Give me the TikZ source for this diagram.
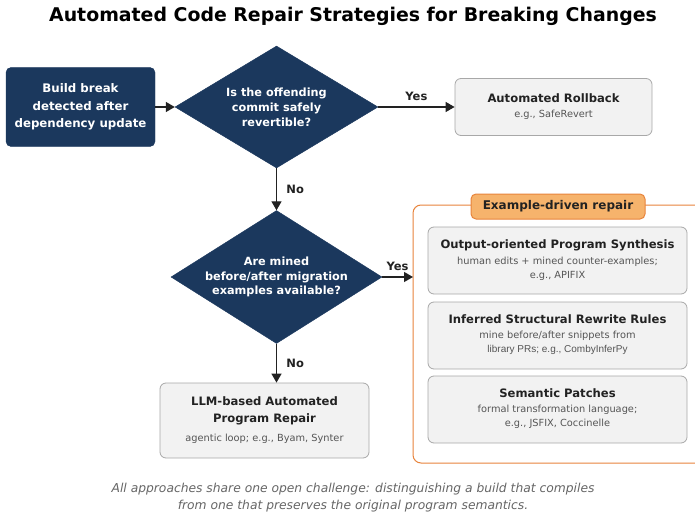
\documentclass[tikz,border=0pt]{standalone}
\usepackage{fontspec}
\setmainfont{DejaVu Sans}
\newfontfamily\libsans{Liberation Sans}
\usetikzlibrary{shapes.geometric,arrows.meta,positioning}
\definecolor{navy}{HTML}{1B385D}
\definecolor{boxfill}{HTML}{F2F2F2}
\definecolor{boxline}{HTML}{A8A8A8}
\definecolor{orangeline}{HTML}{E8843C}
\definecolor{orangefill}{HTML}{F6B36C}
\definecolor{subgray}{HTML}{555555}
\definecolor{darktext}{HTML}{222222}
\definecolor{footgray}{HTML}{666666}
\tikzset{
  navybox/.style={draw=navy, fill=navy, rounded corners=5pt, text=white, align=center, font=\fontsize{11.8}{17.5}\selectfont\bfseries, inner sep=0pt},
  decision/.style={diamond, shape aspect=1.66, draw=navy, fill=navy, text=white, align=center, font=\fontsize{11.3}{14.8}\selectfont\bfseries, inner sep=0pt},
  graybox/.style={draw=boxline, fill=boxfill, rounded corners=6pt, line width=0.8pt, inner sep=0pt},
  ttl/.style={font=\fontsize{11.6}{17}\selectfont\bfseries, text=darktext, align=center},
  sub/.style={font=\fontsize{9.8}{14}\selectfont, text=subgray, align=center},
  flow/.style={draw=darktext, line width=1.3pt, -{Triangle[length=9pt,width=10pt]}},
  lbl/.style={font=\fontsize{11.5}{13}\selectfont\bfseries, text=darktext},
}
\begin{document}
\begin{tikzpicture}[x=1pt,y=-1pt]
\useasboundingbox (0,0) rectangle (695,516);
\clip (0,0) rectangle (695,516);
\fill[white] (0,0) rectangle (695,516);

\node[font=\fontsize{18.9}{22}\selectfont\bfseries, text=black] (title) at (353,16) {Automated Code Repair Strategies for Breaking Changes};

% start box
\node[navybox, minimum width=149pt, minimum height=79pt] (start) at (80.5,107) {Build break\\detected after\\dependency update};

% decision 1
\node[decision, minimum width=203pt, minimum height=122pt] (d1) at (276.5,107) {Is the offending\\commit safely\\revertible?};

% rollback
\node[graybox, minimum width=197pt, minimum height=57pt] (rb) at (553.5,107) {};
\node[ttl] (rbt) at (553.5,98) {Automated Rollback};
\node[sub] (rbs) at (553.5,115) {e.g., SafeRevert};

% decision 2
\node[decision, minimum width=211pt, minimum height=133pt] (d2) at (276.5,277) {Are mined\\before/after migration\\examples available?};

% LLM box
\node[graybox, minimum width=209pt, minimum height=75pt] (llm) at (264.5,420.5) {};
\node[ttl] (llmt) at (264.5,411) {LLM-based Automated\\Program Repair};
\node[sub] (llms) at (264.5,439) {agentic loop; e.g., Byam, Synter};

% container
\draw[orangeline, line width=1pt, rounded corners=8pt] (413,205) rectangle (712,463);
\coordinate (cin) at (413,277);
\node[draw=orangeline, fill=orangefill, rounded corners=5pt, line width=1pt, minimum width=174pt, minimum height=25pt, inner sep=0pt, font=\fontsize{12}{14}\selectfont\bfseries, text=darktext] (hdr) at (558,206.5) {Example-driven repair};

% inner boxes
\node[graybox, minimum width=259pt, minimum height=67pt] (b1) at (557.5,260.5) {};
\node[ttl] (b1t) at (557.5,245) {Output-oriented Program Synthesis};
\node[sub] (b1s) at (557.5,268.5) {human edits + mined counter-examples;\\e.g., APIFIX};

\node[graybox, minimum width=259pt, minimum height=67pt] (b2) at (557.5,335.5) {};
\node[ttl] (b2t) at (557.5,319) {Inferred Structural Rewrite Rules};
\node[sub] (b2s) at (557.5,343) {mine before/after snippets from\\{\libsans\fontsize{10}{14}\selectfont library PRs; e.g., CombyInferPy}};

\node[graybox, minimum width=259pt, minimum height=67pt] (b3) at (557.5,409.5) {};
\node[ttl] (b3t) at (557.5,393) {Semantic Patches};
\node[sub] (b3s) at (557.5,417) {formal transformation language;\\e.g., JSFIX, Coccinelle};

% connectors
\draw[flow] (start) -- (d1);
\draw[flow] (d1.east) -- (rb.west) node[lbl, midway, above=2pt] (y1) {Yes};
\draw[flow] (d1.south) -- (d2.north) node[lbl, midway, right=6pt] (n1) {No};
\draw[flow] (d2.east) -- (cin) node[lbl, midway, above=2pt] (y2) {Yes};
\draw[flow] (d2.south) -- (llm.north -| d2.south) node[lbl, midway, right=6pt] (n2) {No};

% footer
\node[font=\fontsize{12.3}{17}\selectfont\itshape, text=footgray, align=center] (foot) at (353,497.5) {All approaches share one open challenge: distinguishing a build that compiles\\from one that preserves the original program semantics.};
\end{tikzpicture}
\end{document}
